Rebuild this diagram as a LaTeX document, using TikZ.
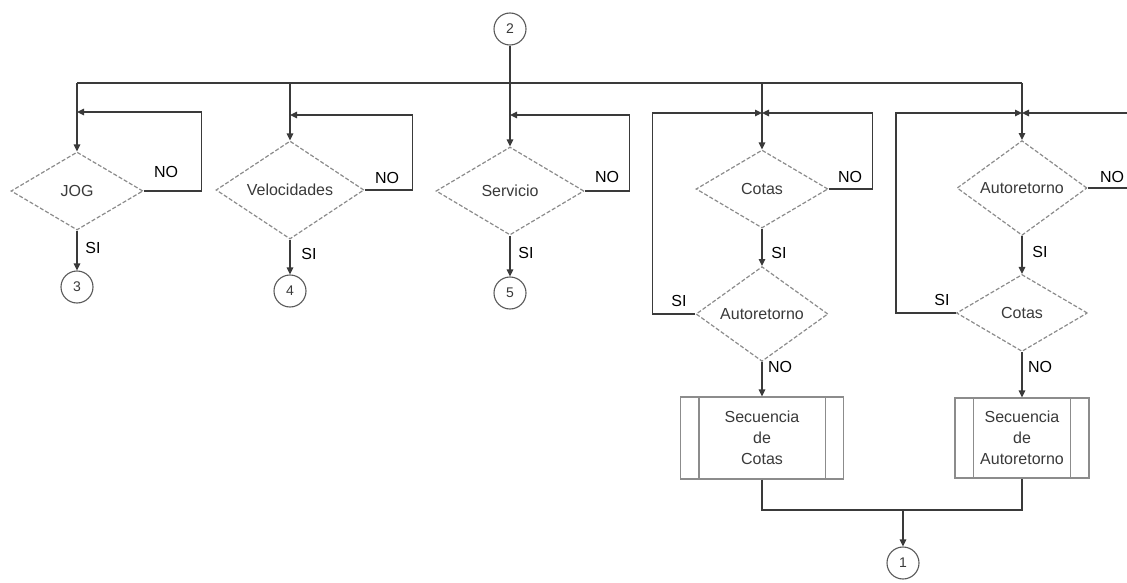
\documentclass[tikz,border=0pt]{standalone}
\usepackage{fontspec}
\setmainfont{Liberation Sans}
\usetikzlibrary{shapes.geometric,arrows.meta}

\definecolor{linegray}{HTML}{3A3A3A}
\definecolor{dashgray}{HTML}{8C8C8C}
\definecolor{ringgray}{HTML}{5A5A5A}

\begin{document}
\begin{tikzpicture}[x=1pt,y=-1pt,
  flow/.style={draw=linegray, line width=1.4pt},
  arr/.style={flow, -{Triangle[length=7pt,width=6.5pt]}},
  decision/.style={diamond, draw=dashgray, line width=1.2pt, dash pattern=on 4pt off 2pt,
    inner sep=0pt, font=\fontsize{16}{19}\selectfont, text=linegray},
  conn/.style={circle, draw=ringgray, line width=1.1pt, minimum size=32pt, inner sep=0pt,
    font=\fontsize{14}{17}\selectfont, text=linegray},
  subproc/.style={rectangle, draw=dashgray, line width=1.2pt, inner sep=0pt, align=center,
    font=\fontsize{16}{21}\selectfont, text=linegray},
  lbl/.style={font=\fontsize{16}{19}\selectfont, text=black, inner sep=0pt}
]
\clip (0,0) rectangle (1127,583);
\fill[white] (0,0) rectangle (1127,583);

% entry connector and decisions
\node[conn] (c2) at (510,29) {2};
\node[decision, minimum width=132pt, minimum height=78pt] (jog) at (77,191) {JOG};
\node[decision, minimum width=148pt, minimum height=86pt] (vel) at (290,190) {Velocidades};
\node[decision, minimum width=148pt, minimum height=88pt] (ser) at (510,191) {Servicio};
\node[decision, minimum width=132pt, minimum height=78pt] (cot1) at (762,189) {Cotas};
\node[decision, minimum width=132pt, minimum height=78pt] (aut1) at (762,314) {Autoretorno};
\node[decision, minimum width=130pt, minimum height=79pt] (aut2) at (1022,188) {Autoretorno};
\node[decision, minimum width=131pt, minimum height=77pt] (cot2) at (1022,313) {Cotas};

% exit connectors
\node[conn] (c3) at (77,287) {3};
\node[conn] (c4) at (290,291) {4};
\node[conn] (c5) at (510,293) {5};
\node[conn] (c1) at (903,563) {1};

% predefined processes
\node[subproc, minimum width=163pt, minimum height=82pt] (sc) at (762,438) {Secuencia\\de\\Cotas};
\node[subproc, minimum width=134pt, minimum height=80pt] (sa) at (1022,438) {Secuencia\\de\\Autoretorno};
\foreach \b in {sc,sa}{
  \draw[draw=dashgray, line width=1.2pt] ([xshift=19pt]\b.north west) -- ([xshift=19pt]\b.south west);
  \draw[draw=dashgray, line width=1.2pt] ([xshift=-19pt]\b.north east) -- ([xshift=-19pt]\b.south east);
}

% distribution bus
\coordinate (bL) at (77,83);
\coordinate (b2) at (290,83);
\coordinate (b4) at (762,83);
\coordinate (bR) at (1022,83);
\draw[flow] (bL) -- (bR);
\draw[arr] (bL) -- (jog.north);
\draw[arr] (b2) -- (vel.north);
\draw[arr] (c2) -- (ser.north);
\draw[arr] (b4) -- (cot1.north);
\draw[arr] (bR) -- (aut2.north);

% return points of the loops
\coordinate (j1) at (77,112);
\coordinate (v1) at (290,115);
\coordinate (s1) at (510,115);
\coordinate (k1) at (762,113);
\coordinate (a1) at (1022,113);

% NO loops
\draw[arr] (jog.east) -- ++(58,0) |- (j1);
\draw[arr] (vel.east) -- ++(48,0) |- (v1);
\draw[arr] (ser.east) -- ++(45,0) |- (s1);
\draw[arr] (cot1.east) -- ++(44,0) |- (k1);
\draw[arr] (aut2.east) -- ++(70,0) |- (a1);

% SI loops back
\draw[arr] (aut1.west) -- ++(-43,0) |- (k1);
\draw[arr] (cot2.west) -- ++(-60,0) |- (a1);

% SI / NO exits
\draw[arr] (jog.south) -- (c3);
\draw[arr] (vel.south) -- (c4);
\draw[arr] (ser.south) -- (c5);
\draw[arr] (cot1.south) -- (aut1.north);
\draw[arr] (aut1.south) -- (sc.north);
\draw[arr] (aut2.south) -- (cot2.north);
\draw[arr] (cot2.south) -- (sa.north);

% join to connector 1
\coordinate (jn) at (903,510);
\draw[flow] (sc.south) |- (jn) -| (sa.south);
\draw[arr] (jn) -- (c1);

% branch labels
\node[lbl] (l1) at (166,172) {NO};
\node[lbl] (l2) at (93,248) {SI};
\node[lbl] (l3) at (387,178) {NO};
\node[lbl] (l4) at (309,254) {SI};
\node[lbl] (l5) at (607,177) {NO};
\node[lbl] (l6) at (526,253) {SI};
\node[lbl] (l7) at (850,177) {NO};
\node[lbl] (l8) at (779,253) {SI};
\node[lbl] (l9) at (679,301) {SI};
\node[lbl] (l10) at (780,367) {NO};
\node[lbl] (l11) at (1112,177) {NO};
\node[lbl] (l12) at (1040,252) {SI};
\node[lbl] (l13) at (942,300) {SI};
\node[lbl] (l14) at (1040,367) {NO};
\end{tikzpicture}
\end{document}
